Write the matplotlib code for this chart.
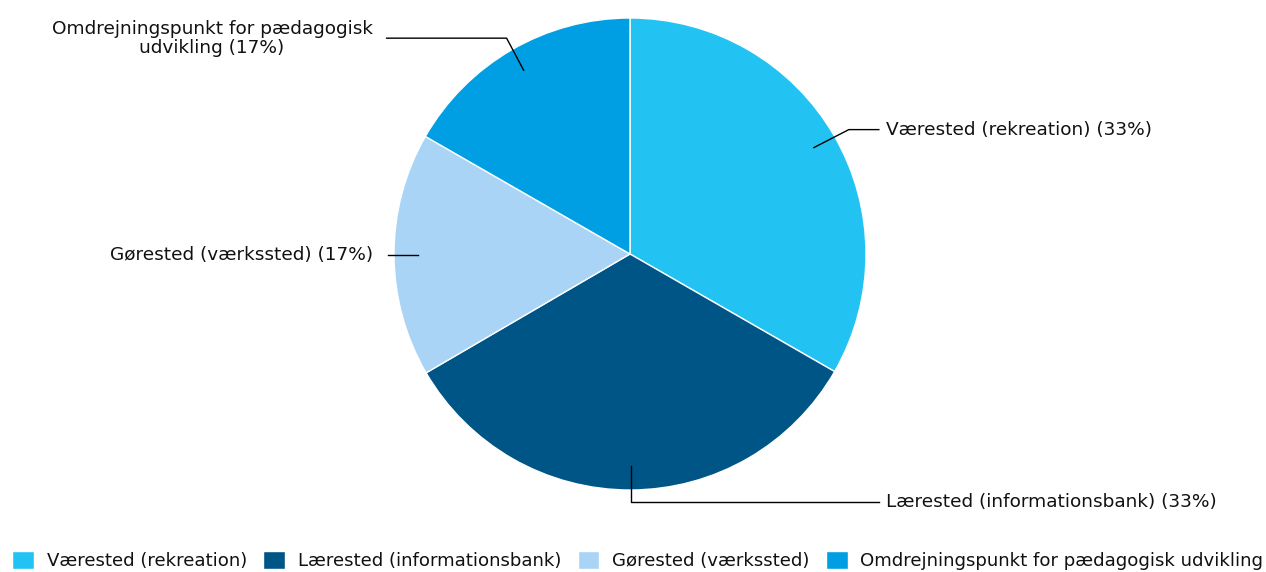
import numpy as np
import matplotlib
matplotlib.use("Agg")
import matplotlib.pyplot as plt

# data
categories = ["Værested (rekreation)", "Lærested (informationsbank)",
              "Gørested (værkssted)", "Omdrejningspunkt for pædagogisk udvikling"]
point_labels = ["Værested (rekreation) (33%)", "Lærested (informationsbank) (33%)",
                "Gørested (værkssted) (17%)", "Omdrejningspunkt for pædagogisk\nudvikling (17%)"]
values = [33.3, 33.3, 16.7, 16.7]
colors = ["#22C3F3", "#005587", "#A9D4F5", "#009FE3"]

plt.rcParams['font.family'] = ['DejaVu Sans']

W, H = 1266, 572
fig = plt.figure(figsize=(W / 100, H / 100), dpi=100)
ax = fig.add_axes([0, 0, 1, 1])

cx, cy, R = 630, H - 254, 236
wedges, _ = ax.pie(values, colors=colors, startangle=90, counterclock=False,
                   center=(cx, cy), radius=R, frame=True,
                   wedgeprops=dict(edgecolor="white", linewidth=1))
ax.set_xlim(0, W)
ax.set_ylim(0, H)
ax.set_aspect("equal")
ax.axis("off")

# leader lines: elbow offset, horizontal tail length, side
elbows = [(35, 18), (0, -36), (-30, 0), (-17, 32)]
tail = [30, 248, 0, 120]
sides = ["right", "right", "left", "left"]
fs = 13.3
for w, lab, (ex, ey), t, side in zip(wedges, point_labels, elbows, tail, sides):
    mid = np.deg2rad((w.theta1 + w.theta2) / 2)
    x0 = cx + 0.9 * R * np.cos(mid)
    y0 = cy + 0.9 * R * np.sin(mid)
    x1, y1 = x0 + ex, y0 + ey
    x2 = x1 + t if side == "right" else x1 - t
    ax.plot([x0, x1, x2], [y0, y1, y1], color="black", lw=1)
    if side == "right":
        ax.text(x2 + 7, y1, lab, ha="left", va="center", fontsize=fs, color="#111111")
    else:
        ax.text(x2 - 14, y1, lab, ha="right", va="center", fontsize=fs,
                color="#111111", multialignment="center", linespacing=1.05)

leg = fig.legend(wedges, categories, loc="lower left", bbox_to_anchor=(12 / W, 0.003),
                 ncol=4, frameon=False, fontsize=13.1, handlelength=1.2, handleheight=1.2,
                 handletextpad=0.7, columnspacing=0.9, borderaxespad=0, borderpad=0)
for t in leg.get_texts():
    t.set_color("#111111")

fig.savefig("out.png", dpi=100)
